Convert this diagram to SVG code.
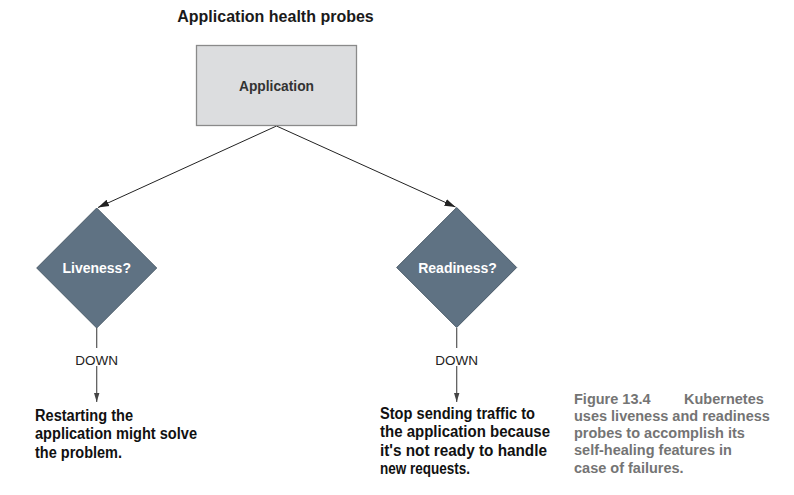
<svg xmlns="http://www.w3.org/2000/svg" width="794" height="495" viewBox="0 0 794 495">
<defs>
<style>
.title{font-family:"Liberation Sans",Arial,sans-serif;font-weight:bold;font-size:16px;fill:#1a1a1a;text-anchor:middle}
.boxlbl{font-family:"Liberation Sans",Arial,sans-serif;font-weight:bold;font-size:13.8px;fill:#333;text-anchor:middle}
.dlbl{font-family:"Liberation Sans",Arial,sans-serif;font-weight:bold;font-size:14px;fill:#fff;text-anchor:middle}
.down{font-family:"Liberation Sans",Arial,sans-serif;font-size:13.5px;fill:#222;text-anchor:middle}
.note{font-family:"Liberation Sans Narrow","Liberation Sans",Arial,sans-serif;font-weight:bold;font-size:16px;fill:#111}
.cap{font-family:"Liberation Sans",Arial,sans-serif;font-weight:bold;font-size:14.5px;fill:#747474}
.box{fill:#dcdddf;stroke:#8a8a8a;stroke-width:1.3}
.diamond{fill:#5f7283;stroke:#4b5b69;stroke-width:1}
.conn{fill:none;stroke:#222;stroke-width:1}
.vconn{fill:none;stroke:#555;stroke-width:1.2}
</style>
<marker id="arr" markerUnits="userSpaceOnUse" markerWidth="12" markerHeight="8" refX="11" refY="4" orient="auto">
<path d="M0,0.5 L11,4 L0,7.5 Z" fill="#222"/>
</marker>
<marker id="arrs" markerUnits="userSpaceOnUse" markerWidth="10" markerHeight="6" refX="9" refY="3" orient="auto">
<path d="M0,0.3 L9,3 L0,5.7 Z" fill="#444"/>
</marker>
</defs>
<rect width="794" height="495" fill="#fff"/>
<text class="title" x="275.5" y="22">Application health probes</text>

<g id="connectors">
<line class="conn" x1="276.5" y1="126" x2="98" y2="207.5" marker-end="url(#arr)"/>
<line class="conn" x1="276.5" y1="126" x2="455.5" y2="207" marker-end="url(#arr)"/>
<line class="vconn" x1="96.7" y1="328" x2="96.7" y2="402" marker-end="url(#arrs)"/>
<line class="vconn" x1="456.7" y1="328" x2="456.7" y2="402" marker-end="url(#arrs)"/>
<rect x="70" y="348" width="54" height="18" fill="#fff"/>
<rect x="430" y="348" width="54" height="18" fill="#fff"/>
<text class="down" x="96.7" y="365">DOWN</text>
<text class="down" x="456.7" y="365">DOWN</text>
</g>

<g id="application">
<rect class="box" x="196.5" y="45.5" width="160" height="80"/>
<text class="boxlbl" x="276.5" y="91">Application</text>
</g>

<g id="liveness">
<polygon class="diamond" points="96.7,208 156.7,268 96.7,328 36.7,268"/>
<text class="dlbl" x="96.7" y="273">Liveness?</text>
</g>

<g id="readiness">
<polygon class="diamond" points="456.7,207.5 516.7,267.5 456.7,327.5 396.7,267.5"/>
<text class="dlbl" x="457.5" y="273">Readiness?</text>
</g>

<g id="restart-note">
<text class="note" x="35" y="420.5" textLength="98" lengthAdjust="spacingAndGlyphs">Restarting the</text>
<text class="note" x="35" y="439" textLength="162" lengthAdjust="spacingAndGlyphs">application might solve</text>
<text class="note" x="35" y="457.5" textLength="87" lengthAdjust="spacingAndGlyphs">the problem.</text>
</g>

<g id="stop-note">
<text class="note" x="380" y="418.5" textLength="155" lengthAdjust="spacingAndGlyphs">Stop sending traffic to</text>
<text class="note" x="380" y="437" textLength="170" lengthAdjust="spacingAndGlyphs">the application because</text>
<text class="note" x="380" y="455.5" textLength="167" lengthAdjust="spacingAndGlyphs">it's not ready to handle</text>
<text class="note" x="380" y="474" textLength="90" lengthAdjust="spacingAndGlyphs">new requests.</text>
</g>

<g id="caption">
<text class="cap" x="574" y="404">Figure 13.4<tspan x="684">Kubernetes</tspan></text>
<text class="cap" x="574" y="421">uses liveness and readiness</text>
<text class="cap" x="574" y="438.2">probes to accomplish its</text>
<text class="cap" x="574" y="455.4">self-healing features in</text>
<text class="cap" x="574" y="472.6">case of failures.</text>
</g>
</svg>
